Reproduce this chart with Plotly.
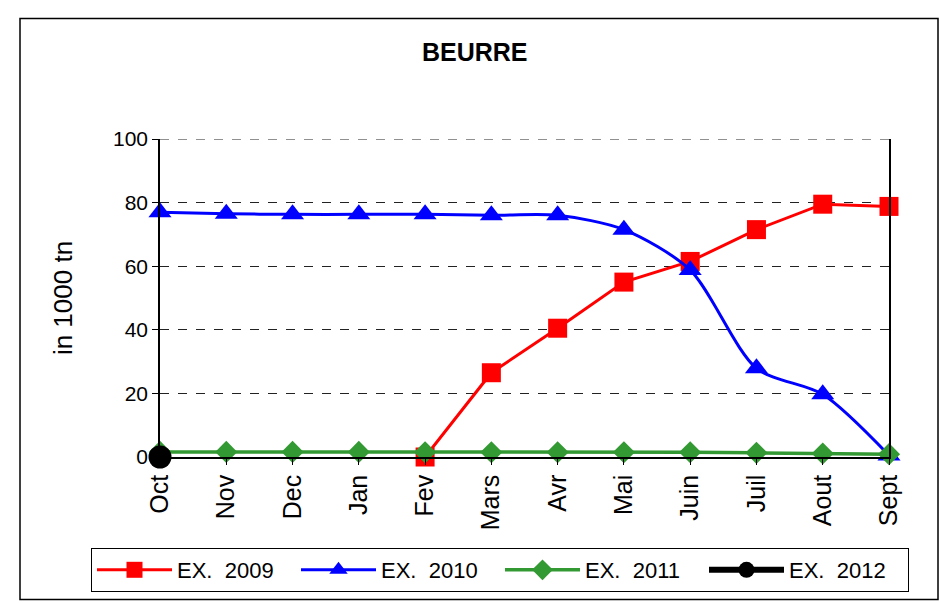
import plotly.graph_objects as go

months = ["Oct", "Nov", "Dec", "Jan", "Fev", "Mars", "Avr", "Mai", "Juin", "Juil", "Aout", "Sept"]
ex2009 = [None, None, None, None, 0, 26.5, 40.5, 55, 61.5, 71.5, 79.5, 78.8]
ex2010 = [77, 76.5, 76.3, 76.3, 76.3, 76, 76, 71.5, 58.8, 27.9, 19.7, 0.5]
ex2011 = [1.6, 1.6, 1.6, 1.6, 1.5, 1.5, 1.5, 1.5, 1.5, 1.3, 1.1, 0.9]
ex2012 = [0, None, None, None, None, None, None, None, None, None, None, None]
names = ["EX.  2009", "EX.  2010", "EX.  2011", "EX.  2012"]
y_max = 100

fig = go.Figure()
fig.add_trace(go.Scatter(x=months, y=ex2009, name=names[0], mode="lines+markers",
                         line=dict(color="#ff0000", width=3),
                         marker=dict(symbol="square", size=19, color="#ff0000"),
                         cliponaxis=False))
fig.add_trace(go.Scatter(x=months, y=ex2010, name=names[1], mode="lines+markers",
                         line=dict(color="#0000ff", width=3, shape="spline", smoothing=0.8),
                         marker=dict(symbol="triangle-up", size=20, color="#0000ff"),
                         cliponaxis=False))
fig.add_trace(go.Scatter(x=months, y=ex2011, name=names[2], mode="lines+markers",
                         line=dict(color="#339933", width=3.5),
                         marker=dict(symbol="diamond", size=17, color="#339933"),
                         cliponaxis=False))
fig.add_trace(go.Scatter(x=months, y=ex2012, name=names[3], mode="lines+markers",
                         line=dict(color="#000000", width=6),
                         marker=dict(symbol="circle", size=23, color="#000000"),
                         cliponaxis=False))

W, H = 940, 603
L, R, T, B = 160, 889, 139, 458
pw, ph = R - L, B - T

def px(x):
    return (x - L) / pw

def py(y):
    return (B - y) / ph

fig.update_layout(
    width=W, height=H,
    margin=dict(l=L, r=W - R, t=T, b=H - B),
    paper_bgcolor="white", plot_bgcolor="white",
    font=dict(family="Liberation Sans, Arial, sans-serif", color="black", size=21),
    title=dict(text="<b>BEURRE</b>", x=0.505, xanchor="center", y=1 - 52 / H, yanchor="middle",
               font=dict(size=25)),
    showlegend=True,
    legend=dict(orientation="h", x=px(91), xanchor="left", y=py(548), yanchor="top",
                bordercolor="black", borderwidth=1, bgcolor="white",
                font=dict(size=22), entrywidth=114, entrywidthmode="pixels",
                itemwidth=75, tracegroupgap=0),
    shapes=[dict(type="rect", xref="paper", yref="paper",
                 x0=px(20), x1=px(938), y0=py(601), y1=py(18),
                 line=dict(color="black", width=1.5), layer="below"),
            dict(type="line", xref="paper", yref="y", x0=0, x1=1, y0=y_max, y1=y_max,
                 line=dict(color="#222222", width=1, dash="dash"), layer="below")],
)
fig.update_xaxes(type="category", range=[0, 11], tickangle=-90, showline=True,
                 linecolor="black", linewidth=1.5, ticks="outside", ticklen=6,
                 tickcolor="black", showgrid=False, tickfont=dict(size=25),
                 fixedrange=True)
fig.update_yaxes(range=[0, y_max], dtick=20, showline=True, linecolor="black",
                 linewidth=1.5, ticks="outside", ticklen=6, tickcolor="black",
                 mirror=True, showgrid=True, gridcolor="#222222", griddash="dash",
                 gridwidth=1, zeroline=False, tickfont=dict(size=21),
                 title=dict(text="in 1000 tn", font=dict(size=26), standoff=33))

fig.write_html("out.html", config={"displayModeBar": False},
               post_script="document.body.style.margin='0';document.body.style.overflow='hidden';")
